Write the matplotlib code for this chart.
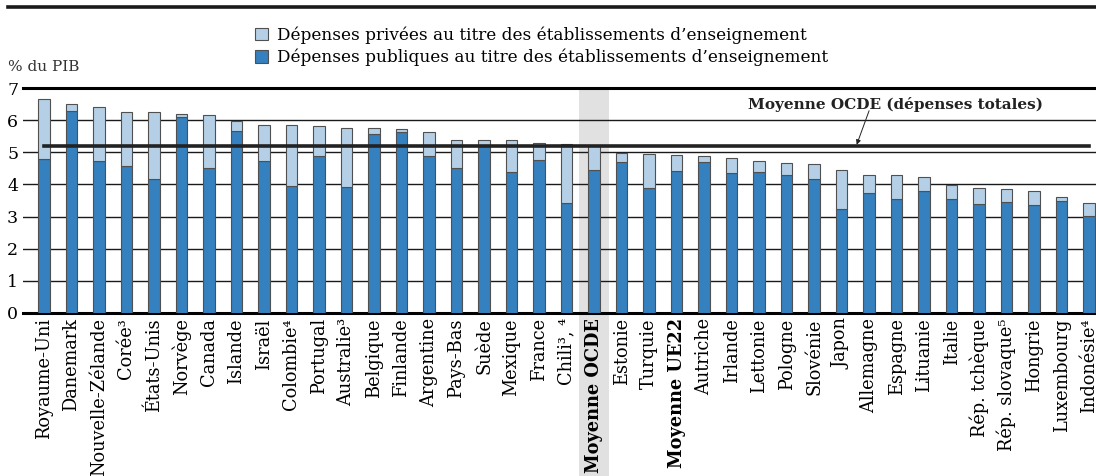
import numpy as np
import matplotlib
matplotlib.use('Agg')
import matplotlib.pyplot as plt
from matplotlib.patches import Rectangle
import matplotlib.transforms as mtransforms

# police serif pour tout le graphique
plt.rcParams['font.family'] = ['DejaVu Serif']

pays = ['Royaume-Uni', 'Danemark', 'Nouvelle-Zélande', 'Corée³', 'États-Unis', 'Norvège',
        'Canada', 'Islande', 'Israël', 'Colombie⁴', 'Portugal', 'Australie³', 'Belgique',
        'Finlande', 'Argentine', 'Pays-Bas', 'Suède', 'Mexique', 'France', 'Chili³, ⁴',
        'Moyenne OCDE', 'Estonie', 'Turquie', 'Moyenne UE22', 'Autriche', 'Irlande',
        'Lettonie', 'Pologne', 'Slovénie', 'Japon', 'Allemagne', 'Espagne', 'Lituanie',
        'Italie', 'Rép. tchèque', 'Rép. slovaque⁵', 'Hongrie', 'Luxembourg', 'Indonésie⁴']

# dépenses totales et publiques (% du PIB)
total = [6.66, 6.51, 6.42, 6.27, 6.25, 6.19, 6.18, 5.97, 5.84, 5.84, 5.82, 5.77, 5.77,
         5.72, 5.63, 5.38, 5.38, 5.38, 5.28, 5.25, 5.20, 4.99, 4.94, 4.91, 4.88, 4.83,
         4.73, 4.66, 4.63, 4.45, 4.30, 4.29, 4.24, 3.97, 3.88, 3.87, 3.79, 3.60, 3.41]
publiques = [4.78, 6.30, 4.74, 4.57, 4.17, 6.12, 4.51, 5.67, 4.73, 3.94, 4.88, 3.92, 5.56,
             5.64, 4.88, 4.51, 5.20, 4.38, 4.75, 3.41, 4.44, 4.69, 3.88, 4.42, 4.69, 4.36,
             4.38, 4.30, 4.17, 3.23, 3.73, 3.55, 3.80, 3.56, 3.39, 3.44, 3.37, 3.48, 3.01]
moyenne_ocde = 5.20

privees = np.array(total) - np.array(publiques)
x = np.arange(len(pays))

bleu_fonce = '#3580bf'
bleu_clair = '#b4cfe6'
bord = '#505050'

fig = plt.figure(figsize=(10.96, 4.76), dpi=100)
ax = fig.add_axes([0.021, 0.343, 0.979, 0.4715])

# bande grise pour la moyenne OCDE
trans = mtransforms.blended_transform_factory(ax.transData, ax.transAxes)
i_ocde = pays.index('Moyenne OCDE')
ax.add_patch(Rectangle((i_ocde - 0.55, -0.73), 1.1, 1.73, transform=trans,
                       facecolor='#e1e1e1', edgecolor='none', clip_on=False, zorder=0))

for yv in range(1, 7):
    ax.axhline(yv, color='#1a1a1a', lw=1.0, zorder=1)

ax.bar(x, publiques, width=0.42, color=bleu_fonce, edgecolor=bord, linewidth=0.8,
       zorder=3, label='Dépenses publiques au titre des établissements d’enseignement')
ax.bar(x, privees, bottom=publiques, width=0.42, color=bleu_clair, edgecolor=bord,
       linewidth=0.8, zorder=3,
       label='Dépenses privées au titre des établissements d’enseignement')

ax.plot([x[0], x[-1]], [moyenne_ocde, moyenne_ocde], color='#222222', lw=2.6, zorder=4)

ax.set_xlim(-0.76, 38.25)
ax.set_ylim(0, 7)
ax.set_yticks(range(0, 8))
ax.tick_params(axis='y', length=0, pad=3.5, labelsize=12.5)
ax.tick_params(axis='x', length=0, pad=4, labelsize=12.8)
ax.set_xticks(x)
ax.set_xticklabels(pays, rotation=90, va='top')
for lab in ax.get_xticklabels():
    if lab.get_text().startswith('Moyenne'):
        lab.set_fontweight('bold')

for s in ['left', 'right']:
    ax.spines[s].set_visible(False)
ax.spines['bottom'].set_linewidth(2.2)
ax.spines['top'].set_linewidth(2.2)
ax.spines['top'].set_zorder(5)

# annotation de la moyenne
ax.text(30.95, 6.51, 'Moyenne OCDE (dépenses totales)', ha='center', va='center',
        fontsize=11, fontweight='bold', color='#222222')
ax.annotate('', xy=(29.55, moyenne_ocde + 0.04), xytext=(30.0, 6.3),
            arrowprops=dict(arrowstyle='-|>', color='#222222', lw=0.7,
                            mutation_scale=7, shrinkA=0, shrinkB=0))

handles, labels = ax.get_legend_handles_labels()
ax.legend(handles[::-1], labels[::-1], loc='upper left', bbox_to_anchor=(0.233, 0.945),
          bbox_transform=fig.transFigure, frameon=False, fontsize=12.2,
          handlelength=0.75, handleheight=0.75, handletextpad=0.5, labelspacing=0.3,
          borderpad=0, borderaxespad=0)

fig.text(0.007, 0.86, '% du PIB', fontsize=11, color='#333333', va='center')
fig.add_artist(plt.Line2D([0.007, 1.0], [0.985, 0.985], color='#1a1a1a', lw=2.6,
                          transform=fig.transFigure))

fig.savefig('out.png', dpi=100)
